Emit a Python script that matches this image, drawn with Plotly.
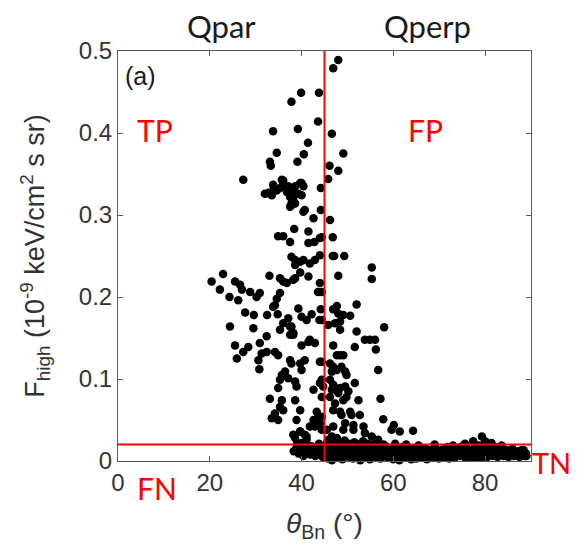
import plotly.graph_objects as go

# --- Data: (theta_Bn in degrees, F_high in 1e-9 keV/cm^2 s sr) ---
upper_points = [
    (48.0, 0.489), (46.9, 0.479), (39.9, 0.449), (43.8, 0.449), (37.8, 0.438), (43.6, 0.414),
    (46.6, 0.399), (33.8, 0.402), (39.2, 0.405), (41.4, 0.388), (34.6, 0.376), (40.5, 0.374),
    (33.1, 0.365), (33.3, 0.360), (39.1, 0.365), (46.1, 0.360), (49.1, 0.375), (48.0, 0.354),
    (27.3, 0.343), (45.8, 0.344), (44.2, 0.333),
    (33.1, 0.326), (34.0, 0.333), (35.7, 0.343), (35.8, 0.335), (37.5, 0.328), (39.7, 0.339),
    (40.4, 0.335), (39.3, 0.326), (32.0, 0.326), (32.8, 0.327), (33.8, 0.337), (34.6, 0.330),
    (33.5, 0.324), (36.0, 0.342), (35.3, 0.333), (36.8, 0.328), (37.1, 0.335), (38.6, 0.335),
    (40.0, 0.339), (37.5, 0.322), (38.2, 0.318), (37.8, 0.314), (38.6, 0.314), (37.5, 0.310),
    (38.9, 0.326), (40.0, 0.324), (40.4, 0.304), (40.7, 0.306), (44.2, 0.306), (42.6, 0.296),
    (46.2, 0.294), (37.8, 0.312),
    (38.4, 0.283), (41.5, 0.280), (34.9, 0.274), (36.0, 0.274), (37.5, 0.267), (41.5, 0.266),
    (42.8, 0.267), (44.0, 0.272), (46.8, 0.273), (44.4, 0.273),
    (37.8, 0.249), (38.6, 0.245), (39.7, 0.243), (38.6, 0.239), (40.4, 0.245), (41.8, 0.241),
    (42.9, 0.245), (44.0, 0.251), (46.8, 0.250), (47.1, 0.250), (49.3, 0.250),
    (55.3, 0.236), (55.3, 0.222), (48.0, 0.226), (41.5, 0.225), (39.7, 0.230), (38.6, 0.223),
    (38.2, 0.221), (35.3, 0.223), (36.0, 0.219), (36.8, 0.217), (33.0, 0.226), (44.0, 0.217),
    (43.6, 0.206), (44.4, 0.206),
    (20.4, 0.219), (22.9, 0.228), (25.5, 0.219), (26.6, 0.215), (27.0, 0.209), (22.2, 0.209),
    (28.8, 0.206), (30.2, 0.200), (30.9, 0.205), (24.3, 0.200), (26.2, 0.196),
    (35.3, 0.205), (34.6, 0.198), (34.2, 0.190), (33.8, 0.188),
    (47.7, 0.189), (46.9, 0.185), (48.0, 0.180), (49.1, 0.178), (50.6, 0.177), (52.0, 0.191),
    (44.2, 0.185), (44.4, 0.172),
    (27.7, 0.181), (29.6, 0.178), (32.5, 0.178), (34.8, 0.179),
    (39.3, 0.186), (40.0, 0.176), (41.1, 0.172), (42.2, 0.179), (43.9, 0.172),
    (37.1, 0.174), (36.0, 0.168), (35.3, 0.160), (37.8, 0.164), (38.2, 0.154),
    (24.4, 0.164), (29.5, 0.162), (32.4, 0.152),
    (45.8, 0.166), (47.3, 0.168), (48.4, 0.170), (48.4, 0.160),
    (52.0, 0.158), (53.8, 0.148), (54.9, 0.148), (56.0, 0.148), (58.0, 0.163),
    (25.5, 0.141), (28.4, 0.139), (30.9, 0.144),
    (40.0, 0.141), (41.8, 0.148), (42.9, 0.144), (46.9, 0.141), (51.6, 0.139), (56.2, 0.136),
    (37.5, 0.164), (38.2, 0.156), (37.5, 0.154), (27.3, 0.133), (25.9, 0.125), (31.3, 0.131),
    (32.4, 0.133), (30.6, 0.123), (30.8, 0.112), (34.2, 0.133), (34.9, 0.129), (41.5, 0.145),
    (37.5, 0.123), (37.8, 0.119), (39.7, 0.119), (40.7, 0.123), (40.0, 0.111), (44.0, 0.121),
    (36.4, 0.109), (35.7, 0.105), (35.3, 0.099), (34.9, 0.089), (37.1, 0.101), (38.6, 0.097),
    (38.9, 0.091),
    (33.1, 0.076), (35.7, 0.074), (35.3, 0.066), (36.0, 0.062), (34.2, 0.058), (33.5, 0.052),
    (34.9, 0.050), (38.6, 0.074), (39.7, 0.062), (38.9, 0.050),
    (42.6, 0.087), (44.0, 0.095), (44.7, 0.091),
    (43.3, 0.060), (43.6, 0.054), (42.6, 0.050), (41.8, 0.042), (42.9, 0.042), (44.0, 0.046),
    (39.7, 0.036), (40.7, 0.032), (38.6, 0.028), (41.1, 0.026), (40.0, 0.022),
    (38.2, 0.032), (39.7, 0.036), (41.1, 0.030),
    (47.7, 0.129), (48.4, 0.129), (49.1, 0.129),
    (46.2, 0.119), (46.9, 0.115), (46.6, 0.109), (47.7, 0.111), (48.7, 0.115), (49.5, 0.109),
    (49.8, 0.105), (56.7, 0.111), (51.6, 0.095),
    (46.2, 0.099), (46.9, 0.093), (46.6, 0.087), (48.0, 0.083), (48.4, 0.089), (49.5, 0.091),
    (50.2, 0.085), (49.8, 0.078), (49.1, 0.074), (52.4, 0.074), (57.2, 0.076),
    (46.2, 0.078), (47.3, 0.070), (46.9, 0.062),
    (48.4, 0.060), (48.7, 0.056), (50.6, 0.060), (50.9, 0.056), (52.7, 0.056),
    (57.8, 0.051), (60.1, 0.044), (59.6, 0.038), (61.4, 0.036), (64.3, 0.037),
    (49.5, 0.046), (49.1, 0.038), (51.3, 0.044), (51.3, 0.038), (53.5, 0.042), (53.8, 0.034),
    (55.3, 0.030), (56.7, 0.026),
    (46.9, 0.042), (45.5, 0.038), (46.6, 0.030), (47.7, 0.028), (45.8, 0.026),
    (44.4, 0.121), (44.4, 0.099), (44.4, 0.078), (44.4, 0.054), (44.4, 0.038),
    (79.3, 0.030), (77.4, 0.024), (80.0, 0.024), (81.4, 0.022),
]

band_points = [
    (45.6, 0.016), (46.8, 0.018), (47.9, 0.015), (49.3, 0.017), (50.1, 0.014), (51.6, 0.018),
    (52.4, 0.016), (53.9, 0.015), (55.2, 0.017), (56.1, 0.014), (57.5, 0.016), (58.3, 0.018),
    (59.9, 0.015), (61.2, 0.013), (62.0, 0.017), (63.6, 0.016), (64.5, 0.014), (65.8, 0.017),
    (67.1, 0.015), (68.4, 0.013), (69.2, 0.016), (70.7, 0.014), (71.8, 0.017), (72.9, 0.015),
    (74.1, 0.016), (75.0, 0.018), (76.3, 0.014), (77.8, 0.017), (78.6, 0.019), (79.9, 0.016),
    (81.2, 0.015), (82.3, 0.017), (83.5, 0.014), (84.8, 0.013), (86.0, 0.015), (87.3, 0.012),
    (88.4, 0.013),
    (45.2, 0.010), (46.1, 0.008), (47.3, 0.011), (48.5, 0.009), (49.6, 0.007), (50.8, 0.010),
    (51.9, 0.008), (53.0, 0.011), (54.4, 0.009), (55.6, 0.007), (56.8, 0.010), (57.9, 0.008),
    (59.1, 0.011), (60.5, 0.009), (61.7, 0.007), (62.8, 0.010), (64.0, 0.008), (65.2, 0.011),
    (66.4, 0.009), (67.7, 0.007), (68.9, 0.010), (70.0, 0.008), (71.3, 0.011), (72.4, 0.009),
    (73.6, 0.007), (74.7, 0.010), (75.8, 0.008), (77.0, 0.011), (78.2, 0.009), (79.4, 0.008),
    (80.6, 0.010), (81.8, 0.008), (82.9, 0.009), (84.1, 0.010), (85.3, 0.008), (86.6, 0.009),
    (87.8, 0.010), (88.9, 0.009),
    (45.8, 0.003), (46.6, 0.001), (47.5, 0.004), (48.9, 0.002), (50.4, 0.005), (51.2, 0.003),
    (52.8, 0.001), (53.5, 0.004), (54.9, 0.002), (56.3, 0.005), (57.2, 0.003), (58.8, 0.004),
    (60.0, 0.002), (61.3, 0.001), (62.4, 0.004), (63.9, 0.002), (65.0, 0.003), (66.1, 0.005),
    (67.3, 0.002), (68.6, 0.004), (69.9, 0.003), (71.0, 0.005), (72.2, 0.003), (73.4, 0.004),
    (74.5, 0.006), (75.7, 0.004), (76.9, 0.005), (78.0, 0.004), (79.1, 0.005), (80.3, 0.004),
    (81.6, 0.006), (82.7, 0.005), (84.0, 0.006), (85.1, 0.005), (86.3, 0.006), (87.5, 0.005),
    (88.6, 0.006),
    (46.4, 0.013), (48.2, 0.012), (50.5, 0.013), (52.1, 0.012), (54.0, 0.013), (55.8, 0.012),
    (57.7, 0.013), (59.5, 0.012), (61.1, 0.013), (63.2, 0.012), (65.0, 0.013), (66.9, 0.012),
    (68.1, 0.013), (70.2, 0.012), (72.0, 0.013), (73.9, 0.012), (76.0, 0.013), (77.4, 0.012),
    (79.0, 0.013), (80.8, 0.012), (83.0, 0.012), (85.6, 0.012), (87.9, 0.013),
    (45.4, 0.006), (47.1, 0.006), (49.0, 0.005), (51.0, 0.006), (52.9, 0.007), (54.6, 0.006),
    (56.0, 0.007), (58.0, 0.006), (60.2, 0.005), (62.1, 0.006), (64.4, 0.006), (66.6, 0.007),
    (68.0, 0.006), (70.5, 0.006), (72.7, 0.006), (74.9, 0.007), (77.2, 0.007), (79.6, 0.007),
    (81.9, 0.007), (84.4, 0.007), (86.9, 0.007), (89.0, 0.006),
    (38.3, 0.012), (38.9, 0.016), (39.4, 0.009), (39.9, 0.014), (40.4, 0.006), (40.8, 0.011),
    (41.4, 0.016), (41.9, 0.008), (42.5, 0.013), (43.0, 0.006), (43.5, 0.017), (44.0, 0.010),
    (44.6, 0.005), (44.5, 0.015), (39.0, 0.020), (40.6, 0.019), (42.2, 0.018), (43.8, 0.021),
    (45.3, 0.019), (45.6, 0.023), (46.2, 0.021), (47.0, 0.024), (47.8, 0.020), (48.6, 0.022),
    (49.4, 0.025), (50.3, 0.021), (51.5, 0.023), (52.6, 0.020), (53.4, 0.024), (54.5, 0.021),
    (56.1, 0.022), (57.9, 0.020), (60.4, 0.021), (62.8, 0.020), (65.5, 0.019), (69.0, 0.020),
    (73.0, 0.019), (75.6, 0.021), (83.6, 0.019),
    (46.3, -0.001), (55.0, -0.001), (61.5, -0.001), (63.3, -0.002),
]

theta_threshold = 45      # vertical red line
flux_threshold = 0.02     # horizontal red line
x_ticks = [0, 20, 40, 60, 80]
y_ticks = [0, 0.1, 0.2, 0.3, 0.4, 0.5]

pts = upper_points + band_points
theta = [p[0] for p in pts]
flux = [p[1] for p in pts]

fig = go.Figure()
fig.add_trace(go.Scatter(
    x=theta, y=flux, mode="markers",
    marker=dict(color="black", size=8.5, line=dict(width=0)),
    cliponaxis=False, showlegend=False, hoverinfo="skip",
))

red = "#ff0000"
fig.add_shape(type="line", xref="x", yref="y", x0=theta_threshold, x1=theta_threshold,
              y0=0, y1=0.5, line=dict(color=red, width=2), layer="above")
fig.add_shape(type="line", xref="x", yref="y", x0=0, x1=90,
              y0=flux_threshold, y1=flux_threshold, line=dict(color=red, width=2), layer="above")

lab_font = dict(family="Lato, Open Sans, sans-serif", size=30, color=red)
title_font = dict(family="Lato, Open Sans, sans-serif", size=31, color="#1a1a1a")
ann = [
    dict(text="TP", x=8, y=0.404, xref="x", yref="y", font=lab_font),
    dict(text="FP", x=67, y=0.404, xref="x", yref="y", font=lab_font),
    dict(text="FN", x=8.5, y=-0.066, xref="x", yref="paper", font=lab_font),
    dict(text="TN", x=0.997, y=-0.004, xref="paper", yref="paper", xanchor="left",
         font=dict(family="Lato, Open Sans, sans-serif", size=29, color=red)),
    dict(text="Qpar", x=22.5, y=1.06, xref="x", yref="paper", font=title_font),
    dict(text="Qperp", x=67.5, y=1.06, xref="x", yref="paper", font=title_font),
    dict(text="(a)", x=0.012, y=0.94, xref="paper", yref="paper", xanchor="left",
         font=dict(family="Liberation Sans, Arial, sans-serif", size=25, color="#1a1a1a")),
]
for a in ann:
    a.setdefault("xanchor", "center")
    a["yanchor"] = "middle"
    a["showarrow"] = False
    fig.add_annotation(**a)

axis_font = dict(family="Liberation Sans, Arial, sans-serif", size=24, color="#333333")
axis_common = dict(
    showline=True, linecolor="#5a5a5a", linewidth=1, mirror="ticks",
    ticks="inside", ticklen=5, tickcolor="#5a5a5a", showgrid=False, zeroline=False,
    tickfont=axis_font, automargin=False,
)
fig.update_xaxes(range=[0, 90], tickvals=x_ticks, **axis_common,
                 title=dict(text="<i>θ</i><sub>Bn</sub> (°)", standoff=18,
                            font=dict(family="Liberation Sans, Arial, sans-serif", size=28, color="#333333")))
fig.update_yaxes(range=[0, 0.5], tickvals=y_ticks, **axis_common,
                 title=dict(text="F<sub>high</sub> (10<sup>-9</sup> keV/cm<sup>2</sup> s sr)", standoff=26,
                            font=dict(family="Liberation Sans, Arial, sans-serif", size=27, color="#333333")))

# The page body adds an 8px offset, so margins are shifted to land the axes where the reference has them.
fig.update_layout(
    width=577, height=548,
    margin=dict(l=110, r=54, t=43, b=95, autoexpand=False),
    plot_bgcolor="white", paper_bgcolor="white",
)
fig.write_html("out.html")
